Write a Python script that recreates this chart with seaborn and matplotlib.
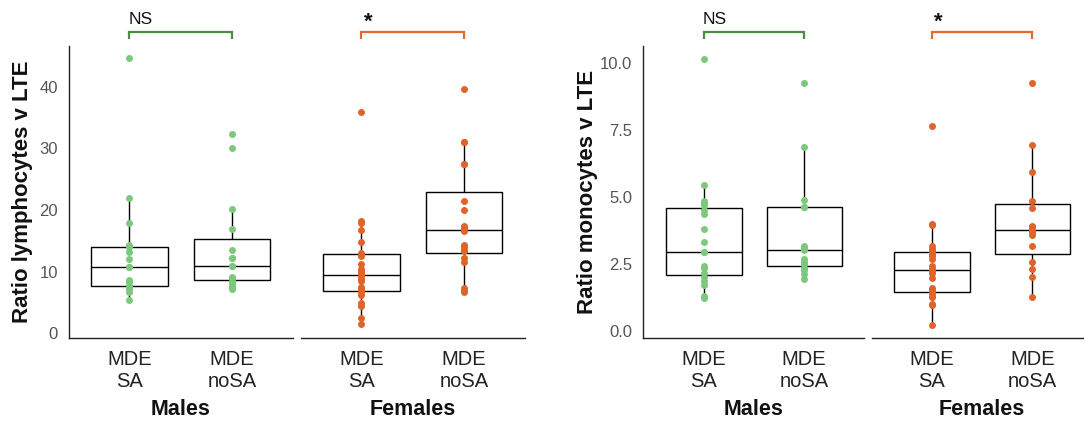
import matplotlib
matplotlib.use("Agg")
import matplotlib.pyplot as plt
import matplotlib.transforms as mtransforms
import seaborn as sns
import pandas as pd

# ---- data ----
categories = ["MDE\nSA", "MDE\nnoSA"]
sexes = ["Males", "Females"]

lymph_males_sa = [44.6, 22.0, 17.9, 14.3, 14.0, 13.2, 12.0, 10.7, 10.7, 8.6, 8.3, 7.7, 7.7, 7.2, 6.8, 5.4]
lymph_males_nosa = [32.3, 30.0, 20.2, 17.0, 13.6, 12.2, 12.2, 11.0, 11.0, 9.2, 8.9, 8.4, 7.9, 7.6, 7.2]
lymph_females_sa = [35.9, 18.2, 17.9, 16.7, 14.8, 13.0, 12.6, 11.3, 10.5, 10.2, 9.8, 9.3, 8.9, 8.5,
                    7.6, 7.2, 6.7, 6.2, 5.0, 4.5, 2.5, 1.6]
lymph_females_nosa = [39.7, 31.0, 31.0, 27.5, 27.5, 21.4, 20.0, 17.4, 17.1, 16.9, 16.6, 14.3, 14.0,
                      13.5, 13.3, 12.3, 11.6, 7.4, 7.0, 6.8]

mono_males_sa = [10.14, 5.44, 4.86, 4.77, 4.68, 4.52, 4.36, 3.80, 3.30, 2.92, 2.92, 2.40, 2.34, 2.15,
                 2.02, 1.87, 1.71, 1.30, 1.21]
mono_males_nosa = [9.24, 6.85, 4.90, 4.62, 4.62, 3.17, 3.09, 3.00, 2.67, 2.58, 2.50, 2.34, 2.25, 2.11, 1.92]
mono_females_sa = [7.64, 3.98, 3.93, 3.15, 3.06, 2.96, 2.87, 2.77, 2.69, 2.40, 2.31, 2.22, 2.15, 1.95,
                   1.59, 1.50, 1.40, 1.30, 1.25, 0.99, 0.94, 0.21]
mono_females_nosa = [9.24, 6.94, 5.94, 4.83, 4.60, 3.92, 3.86, 3.77, 3.69, 3.58, 3.15, 2.55, 2.30, 2.01, 1.26]

sig_labels = {"Males": "NS", "Females": "*"}
ylabels = ["Ratio lymphocytes v LTE", "Ratio monocytes v LTE"]
lymph_ticks = [0, 10, 20, 30, 40]
mono_ticks = [0.0, 2.5, 5.0, 7.5, 10.0]

# ---- style ----
sns.set_style("white")
plt.rcParams["font.family"] = ["Liberation Sans", "DejaVu Sans"]

point_colors = {"Males": "#7cc87c", "Females": "#e0632a"}
bracket_colors = {"Males": "#4a8f40", "Females": "#e8672a"}

W, H = 1084, 421
fig = plt.figure(figsize=(W / 100, H / 100), dpi=100)

bottom_px, top_px = 337.5, 46.0
b = (H - bottom_px) / H
h = (bottom_px - top_px) / H


def make_df(sa, nosa):
    return pd.DataFrame({
        "group": [categories[0]] * len(sa) + [categories[1]] * len(nosa),
        "value": list(sa) + list(nosa),
    })


panels = [
    # (left_px, width_px, sex, sa, nosa, ylim, ticks, ylabel, xlim, fmt, label_offset_px)
    (69.0, 223.5, "Males", lymph_males_sa, lymph_males_nosa, (-0.65, 46.6), lymph_ticks, ylabels[0], (-0.59, 1.59), "{:.0f}", 36),
    (301.0, 223.5, "Females", lymph_females_sa, lymph_females_nosa, (-0.65, 46.6), lymph_ticks, None, (-0.59, 1.59), "{:.0f}", 0),
    (643.3, 221.0, "Males", mono_males_sa, mono_males_nosa, (-0.26, 10.64), mono_ticks, ylabels[1], (-0.605, 1.6), "{:.1f}", 45),
    (871.7, 221.0, "Females", mono_females_sa, mono_females_nosa, (-0.26, 10.64), mono_ticks, None, (-0.6, 1.6), "{:.1f}", 0),
]

for left_px, w_px, sex, sa, nosa, ylim, ticks, ylabel, xlim, fmt, loff in panels:
    ax = fig.add_axes([left_px / W, b, w_px / W, h])
    df = make_df(sa, nosa)
    sns.boxplot(data=df, x="group", y="value", order=categories, ax=ax,
                width=0.75, color="white", linecolor="black", linewidth=1.0,
                showcaps=False, showfliers=False, zorder=1)
    sns.stripplot(data=df, x="group", y="value", order=categories, ax=ax,
                  jitter=False, color=point_colors[sex], size=5, linewidth=0, zorder=3)
    ax.set_xlim(*xlim)
    ax.set_ylim(*ylim)
    for s in ["top", "right"]:
        ax.spines[s].set_visible(False)
    ax.spines["bottom"].set_color("#222222")
    ax.spines["bottom"].set_linewidth(1.0)
    ax.tick_params(axis="x", length=0, pad=9, labelsize=14.5, labelcolor="#222222")
    ax.set_xlabel(sex, fontsize=15.5, fontweight="bold", labelpad=6, color="#111111")
    if ylabel is None:
        ax.spines["left"].set_visible(False)
        ax.set_yticks([])
        ax.set_ylabel("")
    else:
        ax.spines["left"].set_color("#222222")
        ax.spines["left"].set_linewidth(1.0)
        ax.set_yticks(ticks)
        ax.set_yticklabels([fmt.format(t) for t in ticks])
        ax.tick_params(axis="y", length=0, pad=8, labelsize=12, labelcolor="#555555")
        ax.set_ylabel(ylabel, fontsize=16, fontweight="bold", color="#111111")
        ax.yaxis.set_label_coords(-loff / w_px, 0.5)

    # significance bracket
    trans = mtransforms.blended_transform_factory(ax.transData, ax.transAxes)
    y_top = (bottom_px - 32.0) / (bottom_px - top_px)
    y_leg = (bottom_px - 39.0) / (bottom_px - top_px)
    ax.plot([0, 0, 1, 1], [y_leg, y_top, y_top, y_leg], transform=trans,
            color=bracket_colors[sex], linewidth=1.6, clip_on=False,
            solid_joinstyle="miter", solid_capstyle="butt")
    if sig_labels[sex] == "NS":
        ax.text(-0.01, (bottom_px - 24.0) / (bottom_px - top_px), "NS", transform=trans,
                ha="left", va="baseline", fontsize=12.5, color="#111111")
    else:
        ax.text(0.02, (bottom_px - 27.5) / (bottom_px - top_px), "*", transform=trans,
                ha="left", va="baseline", fontsize=16, fontweight="bold", color="#111111")

fig.savefig("out.png", dpi=100)
